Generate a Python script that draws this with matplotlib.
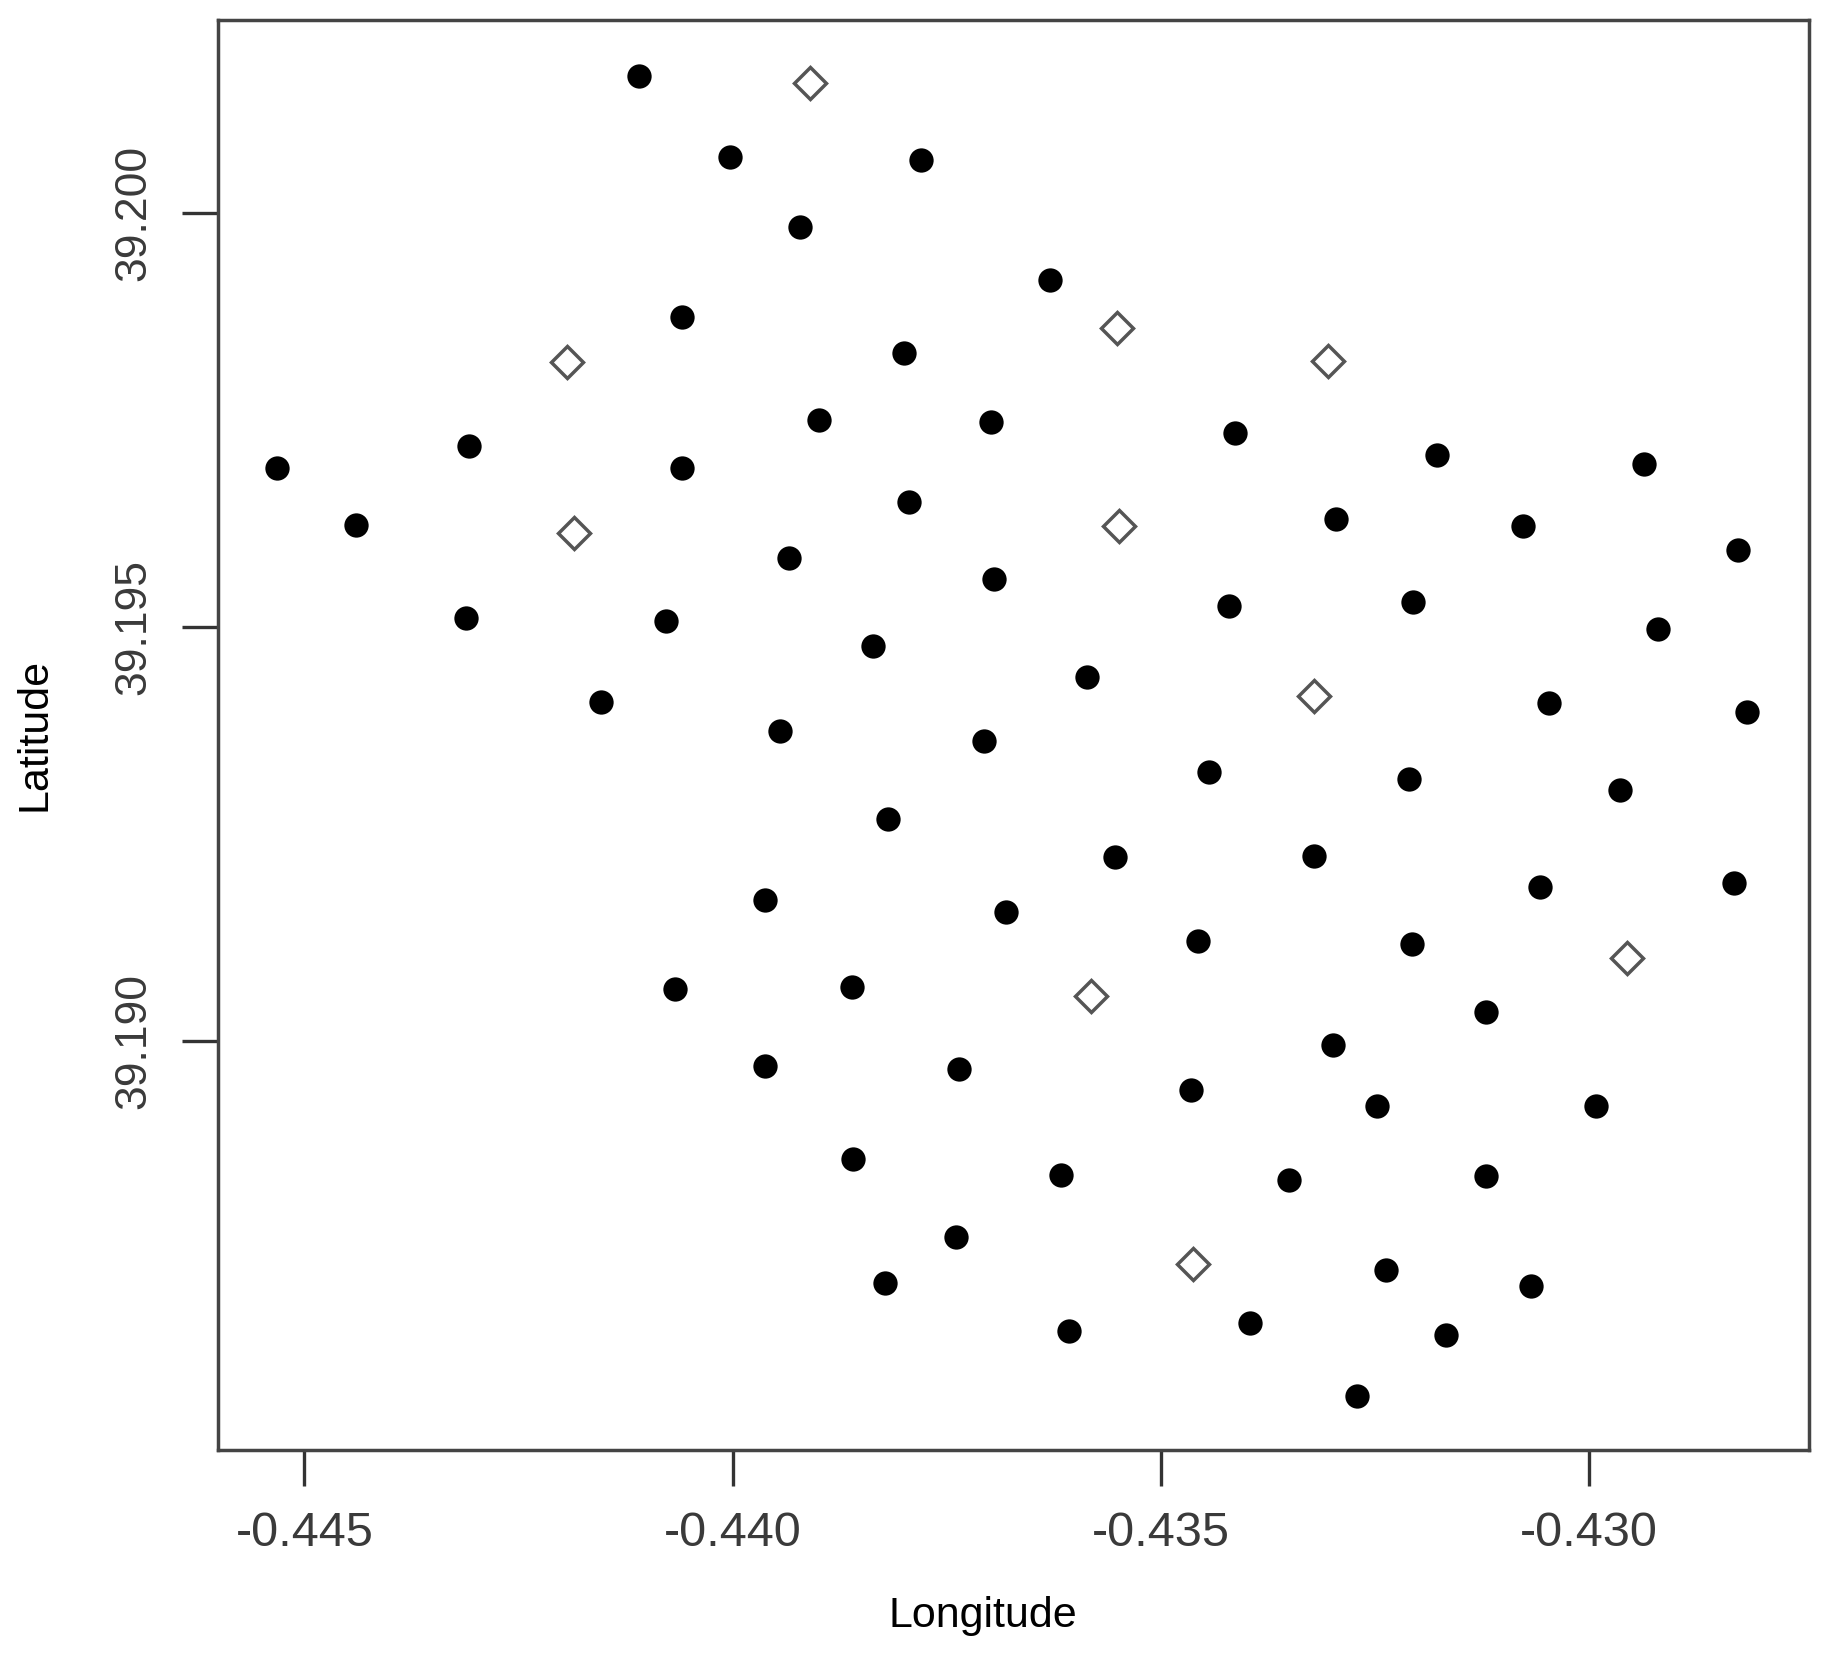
import matplotlib.pyplot as plt
import numpy as np

plt.rcParams['font.family'] = ['Liberation Sans', 'DejaVu Sans']

# stations shown as filled dots
lon_filled = [-0.441091, -0.440027, -0.437805, -0.439209, -0.436291, -0.440586, -0.437996,
              -0.438991, -0.436987, -0.434137, -0.443082, -0.431778, -0.445318, -0.440586,
              -0.429351, -0.437941, -0.432951, -0.444404, -0.430769, -0.439346, -0.428260,
              -0.436946, -0.432051, -0.434205, -0.443109, -0.440777, -0.429188, -0.438364,
              -0.435855, -0.441541, -0.430469, -0.428151, -0.439441, -0.437068, -0.434437,
              -0.432105, -0.429637, -0.438187, -0.435528, -0.433210, -0.430565, -0.428301,
              -0.439618, -0.436809, -0.434560, -0.432064, -0.440668, -0.438609, -0.431205,
              -0.432992, -0.439618, -0.437355, -0.434642, -0.432474, -0.429910, -0.438596,
              -0.436169, -0.433496, -0.431205, -0.437396, -0.432364, -0.438214, -0.430674,
              -0.436073, -0.433960, -0.431669, -0.432705]
lat_filled = [39.201660, 39.200675, 39.200647, 39.199831, 39.199198, 39.198748, 39.198312,
              39.197496, 39.197482, 39.197342, 39.197187, 39.197075, 39.196920, 39.196920,
              39.196976, 39.196512, 39.196301, 39.196231, 39.196217, 39.195837, 39.195935,
              39.195584, 39.195302, 39.195260, 39.195105, 39.195077, 39.194979, 39.194768,
              39.194402, 39.194093, 39.194079, 39.193980, 39.193741, 39.193629, 39.193249,
              39.193164, 39.193038, 39.192686, 39.192222, 39.192236, 39.191856, 39.191913,
              39.191702, 39.191561, 39.191209, 39.191167, 39.190633, 39.190647, 39.190351,
              39.189958, 39.189704, 39.189662, 39.189409, 39.189212, 39.189212, 39.188579,
              39.188382, 39.188326, 39.188368, 39.187637, 39.187229, 39.187074, 39.187046,
              39.186498, 39.186596, 39.186455, 39.185710]

# stations shown as open diamonds
lon_open = [-0.439100, -0.441936, -0.435514, -0.433046, -0.441854,
            -0.435487, -0.433210, -0.429556, -0.435814, -0.434628]
lat_open = [39.201575, 39.198200, 39.198608, 39.198214, 39.196132,
            39.196217, 39.194163, 39.190998, 39.190548, 39.187313]

x_ticks = [-0.445, -0.440, -0.435, -0.430]
y_ticks = [39.190, 39.195, 39.200]

fig = plt.figure(figsize=(18.3, 16.55), dpi=100)
ax = fig.add_axes([0.119, 0.124, 0.8695, 0.864])

ax.plot(lon_filled, lat_filled, 'o', color='black', markersize=17.5, markeredgewidth=0)
ax.plot(lon_open, lat_open, 'D', markerfacecolor='white', markeredgecolor='#555555',
        markersize=16, markeredgewidth=2.5)

ax.set_xlim(-0.446013, -0.427428)
ax.set_ylim(39.185063, 39.202335)

ax.set_xticks(x_ticks)
ax.set_xticklabels([f"{t:.3f}" for t in x_ticks])
ax.set_yticks(y_ticks)
ax.set_yticklabels([f"{t:.3f}" for t in y_ticks], rotation=90, va='center')

ax.tick_params(axis='both', length=26, width=2.4, color='#333333',
               labelcolor='#3a3a3a')
ax.tick_params(axis='x', labelsize=35, pad=18)
ax.tick_params(axis='y', labelsize=32, pad=20)

for sp in ax.spines.values():
    sp.set_color('#444444')
    sp.set_linewidth(2.5)

ax.set_xlabel("Longitude", fontsize=31)
ax.set_ylabel("Latitude", fontsize=31, labelpad=42)
ax.xaxis.set_label_coords(0.481, -0.102)

plt.savefig("out.png", dpi=100)
